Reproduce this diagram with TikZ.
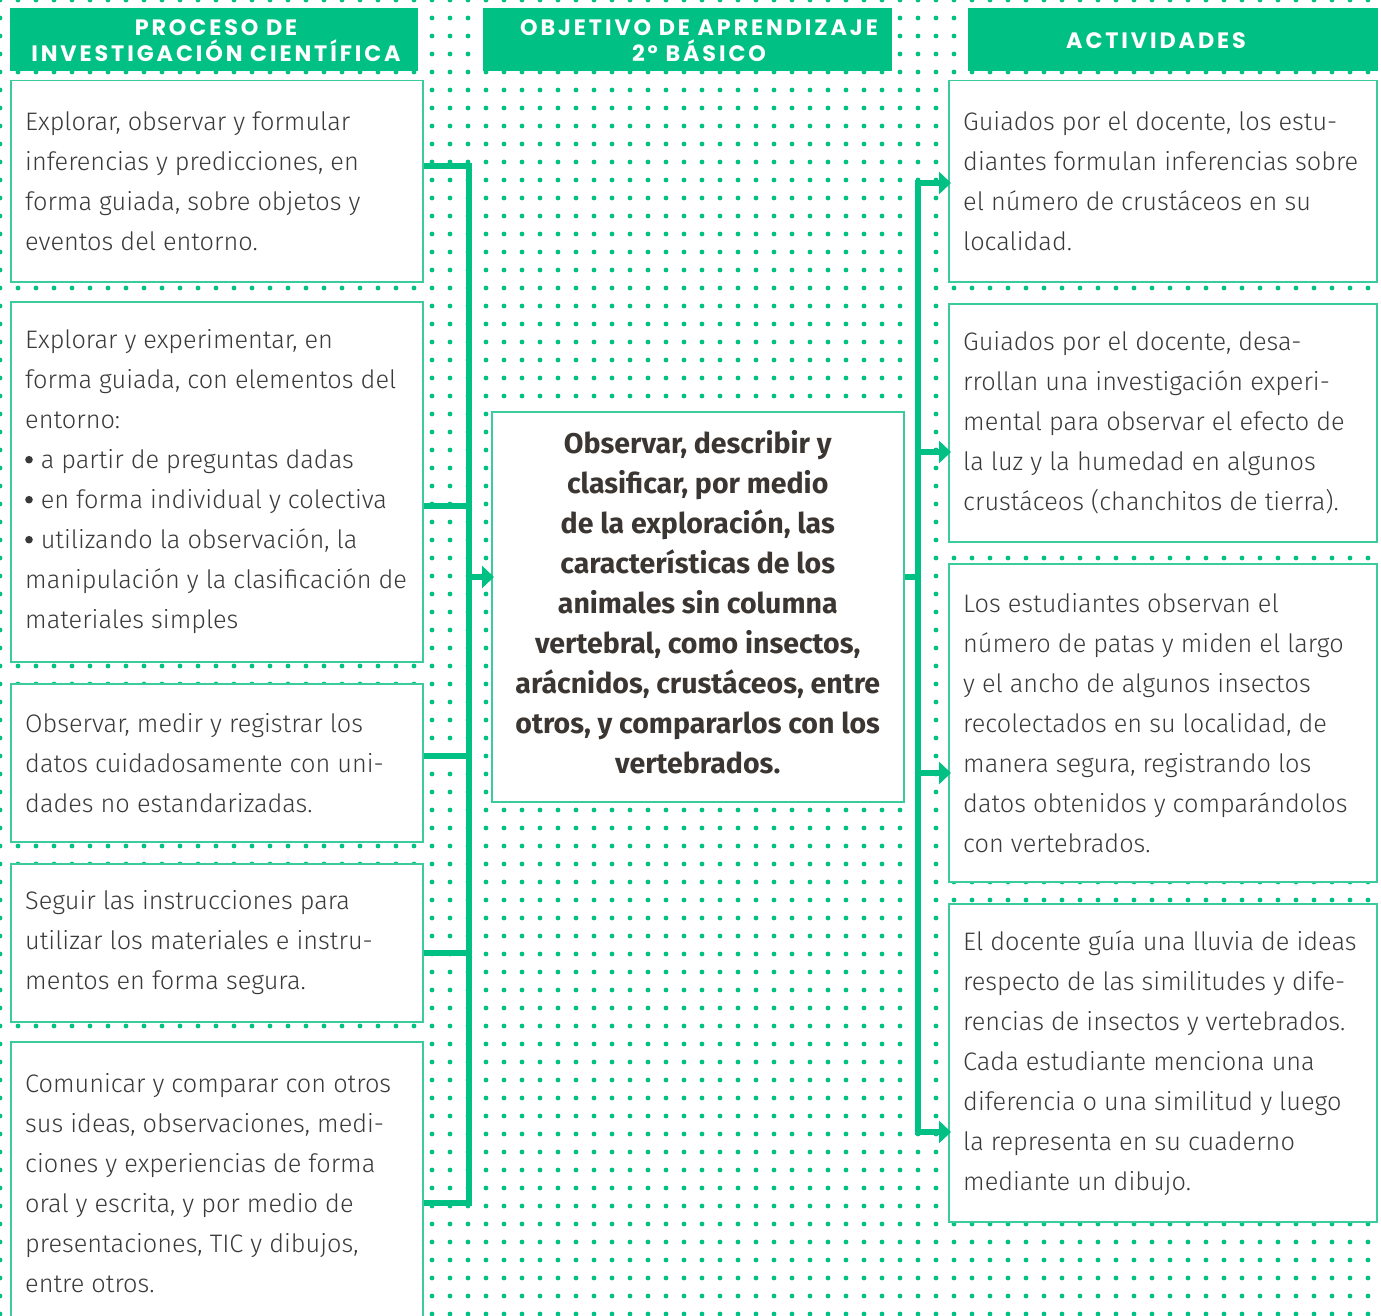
\documentclass[tikz,border=0pt]{standalone}
\usepackage{fontspec}
\IfFontExistsTF{Fira Sans Light}
  {\setmainfont{Fira Sans Light}[BoldFont={Fira Sans Bold}]}
  {\setmainfont{Fira Sans}}
\newfontfamily\hdrfont{Poppins}[LetterSpace=13]
\usepackage{tikz}
\usetikzlibrary{arrows.meta,positioning,calc}
\definecolor{Mint}{HTML}{00C183}
\definecolor{MintLine}{HTML}{3CCB9C}
\definecolor{Ink}{HTML}{3A3A3A}
\definecolor{DarkInk}{HTML}{3B3632}
\tikzset{
  dotrow/.style={Mint, line width=4.8pt, line cap=round, dash pattern=on 0pt off 18pt},
  hdr/.style={fill=Mint, inner sep=0pt, anchor=north west, minimum height=63pt},
  hdrtxt/.style={text=white, font=\hdrfont\bfseries\fontsize{22.3}{26}\selectfont, align=center, inner sep=0pt},
  card/.style={draw=MintLine, line width=1.5pt, fill=white, inner sep=0pt, anchor=north west},
  cardtxt/.style={text=Ink, font=\fontsize{25.3}{40}\selectfont, align=left, anchor=west, inner sep=0pt},
  bus/.style={Mint, line width=5.5pt, line cap=rect},
  feed/.style={Mint, line width=5.5pt, -{Triangle[length=12pt, width=22pt]}}
}
\newcommand{\bul}{\tikz[baseline=-9pt]\fill[Ink] (4pt,0pt) circle (3.8pt);\hspace{8pt}}
\begin{document}
\begin{tikzpicture}[x=1pt,y=-1pt]
  \useasboundingbox (0,0) rectangle (1381,1316);
  % dotted paper
  \foreach \j in {0,...,73}
    \draw[dotrow] (0,18*\j) -- (1381,18*\j);

  % headers
  \node[hdr, minimum width=408pt] (hdrProc) at (10,8) {};
  \node[hdr, minimum width=409pt] (hdrObj) at (483,8) {};
  \node[hdr, minimum width=410pt] (hdrAct) at (968,8) {};
  \node[hdrtxt] (hdrProcT) at (216,41) {PROCESO DE\\INVESTIGACIÓN CIENTÍFICA};
  \node[hdrtxt] (hdrObjT) at (699,41) {OBJETIVO DE APRENDIZAJE\\2º BÁSICO};
  \node[hdrtxt] (hdrActT) at (1156,41) {ACTIVIDADES};

  % process column
  \node[card, minimum width=412pt, minimum height=201pt] (proc1) at (10,80) {};
  \node[card, minimum width=412pt, minimum height=360pt] (proc2) at (10,301) {};
  \node[card, minimum width=412pt, minimum height=158pt] (proc3) at (10,683) {};
  \node[card, minimum width=412pt, minimum height=158pt] (proc4) at (10,863) {};
  \node[card, minimum width=412pt, minimum height=282pt] (proc5) at (10,1041) {};
  \node[cardtxt] (proc1t) at ([xshift=15pt]proc1.west) {Explorar, observar y formular\\inferencias y predicciones, en\\forma guiada, sobre objetos y\\eventos del entorno.};
  \node[cardtxt] (proc2t) at ([xshift=15pt]proc2.west) {Explorar y experimentar, en\\forma guiada, con elementos del\\entorno:\\\bul a partir de preguntas dadas\\\bul en forma individual y colectiva\\\bul utilizando la observación, la\\manipulación y la clasificación de\\materiales simples};
  \node[cardtxt] (proc3t) at ([xshift=15pt]proc3.west) {Observar, medir y registrar los\\datos cuidadosamente con uni-\\dades no estandarizadas.};
  \node[cardtxt] (proc4t) at ([xshift=15pt]proc4.west) {Seguir las instrucciones para\\utilizar los materiales e instru-\\mentos en forma segura.};
  \node[cardtxt] (proc5t) at ([xshift=15pt]proc5.west) {Comunicar y comparar con otros\\sus ideas, observaciones, medi-\\ciones y experiencias de forma\\oral y escrita, y por medio de\\presentaciones, TIC y dibujos,\\entre otros.};

  % objective
  \node[card, minimum width=412pt, minimum height=390pt] (obj) at (491,411) {};
  \node[cardtxt, anchor=center, align=center, font=\bfseries\fontsize{28.5}{40}\selectfont, text=DarkInk] (objt) at ([yshift=5pt]obj.center) {Observar, describir y\\clasificar, por medio\\de la exploración, las\\características de los\\animales sin columna\\vertebral, como insectos,\\arácnidos, crustáceos, entre\\otros, y compararlos con los\\vertebrados.};

  % activities
  \node[card, minimum width=428pt, minimum height=201pt] (act1) at (948,80) {};
  \node[card, minimum width=428pt, minimum height=238pt] (act2) at (948,303) {};
  \node[card, minimum width=428pt, minimum height=318pt] (act3) at (948,563) {};
  \node[card, minimum width=428pt, minimum height=318pt] (act4) at (948,903) {};
  \node[cardtxt] (act1t) at ([xshift=15pt]act1.west) {Guiados por el docente, los estu-\\diantes formulan inferencias sobre\\el número de crustáceos en su\\localidad.};
  \node[cardtxt] (act2t) at ([xshift=15pt]act2.west) {Guiados por el docente, desa-\\rrollan una investigación experi-\\mental para observar el efecto de\\la luz y la humedad en algunos\\crustáceos (chanchitos de tierra).};
  \node[cardtxt] (act3t) at ([xshift=15pt]act3.west) {Los estudiantes observan el\\número de patas y miden el largo\\y el ancho de algunos insectos\\recolectados en su localidad, de\\manera segura, registrando los\\datos obtenidos y comparándolos\\con vertebrados.};
  \node[cardtxt] (act4t) at ([xshift=15pt]act4.west) {El docente guía una lluvia de ideas\\respecto de las similitudes y dife-\\rencias de insectos y vertebrados.\\Cada estudiante menciona una\\diferencia o una similitud y luego\\la representa en su cuaderno\\mediante un dibujo.};

  % connectors
  \coordinate (jL1) at (469,166);
  \coordinate (jL2) at (469,506);
  \coordinate (jL3) at (469,756);
  \coordinate (jL4) at (469,953);
  \coordinate (jL5) at (469,1203);
  \coordinate (jLo) at (469,577);
  \coordinate (jRo) at (918,577);
  \coordinate (jR1) at (918,183);
  \coordinate (jR2) at (918,452);
  \coordinate (jR3) at (918,773);
  \coordinate (jR4) at (918,1132);
  \draw[bus, line cap=butt] (proc1.east |- jL1) -- (jL1) -- (jL5) -- (proc5.east |- jL5);
  \draw[bus, line cap=butt] (proc2.east |- jL2) -- (jL2);
  \draw[bus, line cap=butt] (proc3.east |- jL3) -- (jL3);
  \draw[bus, line cap=butt] (proc4.east |- jL4) -- (jL4);
  \draw[feed] (jLo) -- ([xshift=3pt]obj.west |- jLo);
  \draw[bus, line cap=butt] (obj.east |- jRo) -- (jRo);
  \draw[bus] (jR1) -- (jR4);
  \foreach \k in {1,...,4}
    \draw[feed] (jR\k) -- ([xshift=3pt]act\k.west |- jR\k);
\end{tikzpicture}
\end{document}
